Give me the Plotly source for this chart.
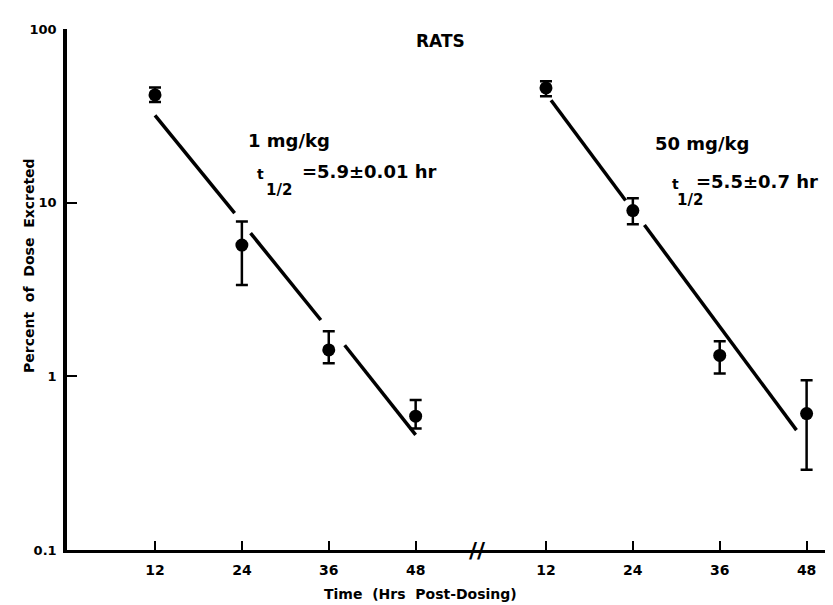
import plotly.graph_objects as go

# ---------------- data ----------------
TICK_HOURS = [12, 24, 36, 48]
TICK_LABELS = ["12", "24", "36", "48"]

LEFT_T = [12, 24, 36, 48]
LEFT_MEAN = [41.7, 5.7, 1.42, 0.59]
LEFT_UPPER = [46.0, 7.8, 1.82, 0.73]
LEFT_LOWER = [38.0, 3.36, 1.19, 0.50]

RIGHT_T = [12, 24, 36, 48]
RIGHT_MEAN = [45.8, 9.0, 1.32, 0.61]
RIGHT_UPPER = [50.0, 10.6, 1.59, 0.95]
RIGHT_LOWER = [41.0, 7.5, 1.04, 0.29]

# regression lines (drawn with gaps near the points, as in the original)
LEFT_FIT_T = [12, 23.0, None, 25.2, 34.9, None, 38.2, 48]
LEFT_FIT_Y = [31.8, 8.71, None, 6.68, 2.11, None, 1.51, 0.46]
RIGHT_FIT_T = [12.7, 23.0, None, 25.6, 46.6]
RIGHT_FIT_Y = [38.9, 10.3, None, 7.43, 0.49]

Y_TICKS = [0.1, 1, 10, 100]
Y_TICK_LABELS = ["0.1", "1", "10", "100"]

# ---------------- layout helpers ----------------
W, H = 833, 605
L, R, T, B = 59, 0, 21, 63
OFFSET = 54          # right panel is drawn after the axis break
X_RANGE = [-0.155, 106.75]
BREAK_X = 56.6


def shift(ts):
    return [None if t is None else t + OFFSET for t in ts]


def px(x):
    return (x - L) / (W - L - R)


def py(y):
    return (H - B - y) / (H - T - B)


FONT = "DejaVu Sans"
BLACK = "black"
SP = "\u00a0\u00a0"

fig = go.Figure()

for ts, ys, shifted in [(LEFT_FIT_T, LEFT_FIT_Y, False), (RIGHT_FIT_T, RIGHT_FIT_Y, True)]:
    fig.add_trace(go.Scatter(
        x=shift(ts) if shifted else ts, y=ys, mode="lines",
        line=dict(color=BLACK, width=3.5), connectgaps=False,
        hoverinfo="skip", showlegend=False))

for ts, m, up, lo, shifted in [(LEFT_T, LEFT_MEAN, LEFT_UPPER, LEFT_LOWER, False),
                               (RIGHT_T, RIGHT_MEAN, RIGHT_UPPER, RIGHT_LOWER, True)]:
    fig.add_trace(go.Scatter(
        x=shift(ts) if shifted else ts, y=m, mode="markers",
        marker=dict(color=BLACK, size=13, symbol="circle"),
        error_y=dict(type="data", symmetric=False,
                     array=[u - v for u, v in zip(up, m)],
                     arrayminus=[v - w for v, w in zip(m, lo)],
                     color=BLACK, thickness=2.5, width=6),
        cliponaxis=False, showlegend=False))

fig.update_layout(
    width=W, height=H,
    margin=dict(l=L, r=R, t=T, b=B, pad=0),
    paper_bgcolor="white", plot_bgcolor="white",
    font=dict(family=FONT, color=BLACK),
    showlegend=False,
    xaxis=dict(range=X_RANGE, showgrid=False, zeroline=False,
               showline=True, linecolor=BLACK, linewidth=3,
               ticks="inside", ticklen=9, tickwidth=1.5, tickcolor=BLACK,
               tickvals=TICK_HOURS + shift(TICK_HOURS),
               ticktext=TICK_LABELS + TICK_LABELS,
               tickfont=dict(family=FONT, size=14, color=BLACK, weight="bold"),
               ticklabelstandoff=5),
    yaxis=dict(type="log", range=[-1, 2], showgrid=False, zeroline=False,
               showline=True, linecolor=BLACK, linewidth=3.5,
               ticks="inside", ticklen=10, tickwidth=2, tickcolor=BLACK,
               tickvals=Y_TICKS, ticktext=Y_TICK_LABELS,
               tickfont=dict(family=FONT, size=13, color=BLACK, weight="bold"),
               ticklabelstandoff=4),
)

ann = []


def text(s, x, y, size, xanchor="left", angle=0):
    ann.append(dict(text=s, x=px(x), y=py(y), xref="paper", yref="paper",
                    xanchor=xanchor, yanchor="middle", showarrow=False,
                    textangle=angle,
                    font=dict(family=FONT, size=size, color=BLACK, weight="bold")))


text("RATS", 432, 33, 17, "center")
text("1 mg/kg", 238, 132, 18)
text("t", 247, 166, 14)
text("1/2", 256, 182, 15)
text("=5.9±0.01 hr", 292, 164, 18)
text("50 mg/kg", 645, 135, 18)
text("t", 662, 176, 14)
text("1/2", 667, 192, 15)
text("=5.5±0.7 hr", 686, 173, 18)
text("Time" + SP + "(Hrs" + SP + "Post-Dosing)", 412, 586, 14, "center")
text("Percent" + SP + "of" + SP + "Dose" + SP + "Excreted", 21, 258, 14, "center", -90)

# axis break mark
ann.append(dict(text="//", x=BREAK_X, y=0, xref="x", yref="paper",
                xanchor="center", yanchor="middle", showarrow=False,
                font=dict(family=FONT, size=22, color=BLACK, weight="bold")))

fig.update_layout(annotations=ann)
fig.write_html("out.html")
